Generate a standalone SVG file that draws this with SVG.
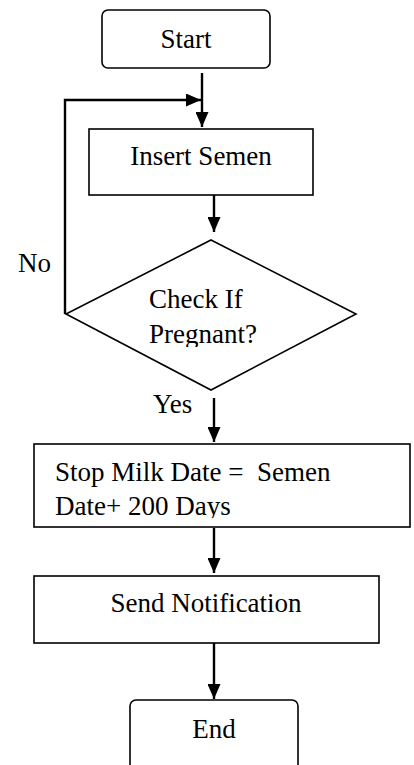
<svg xmlns="http://www.w3.org/2000/svg" width="414" height="765" viewBox="0 0 414 765">
<style>
.box{fill:#fff;stroke:#000;stroke-width:1.6}
.t{font-family:"Liberation Serif","Times New Roman",serif;font-size:27px;fill:#000}
.c{stroke:#000;stroke-width:2.4;fill:none}
</style>
<defs>
<marker id="ah" markerUnits="userSpaceOnUse" markerWidth="15" markerHeight="13" refX="15" refY="6.5" orient="auto" viewBox="0 0 15 13">
<path d="M0,0 L15,6.5 L0,13 z" fill="#000"/>
</marker>
<clipPath id="clipD"><rect x="0" y="0" width="414" height="347"/></clipPath>
<clipPath id="clipS"><rect x="0" y="0" width="414" height="518"/></clipPath>
</defs>
<rect width="414" height="765" fill="#fff"/>
<g id="connectors">
<line class="c" x1="202" y1="73" x2="202" y2="127" marker-end="url(#ah)"/>
<polyline class="c" points="65,314 65,100 201,100" marker-end="url(#ah)"/>
<line class="c" x1="214" y1="195" x2="214" y2="232" marker-end="url(#ah)"/>
<line class="c" x1="214" y1="398" x2="214" y2="442" marker-end="url(#ah)"/>
<line class="c" x1="214" y1="528" x2="214" y2="573" marker-end="url(#ah)"/>
<line class="c" x1="214" y1="643" x2="214" y2="699" marker-end="url(#ah)"/>
</g>
<g id="start">
<rect class="box" x="102" y="10" width="168" height="58" rx="6"/>
<text class="t" x="186" y="48" text-anchor="middle">Start</text>
</g>
<g id="insert">
<rect class="box" x="89" y="129" width="224" height="66"/>
<text class="t" x="201" y="165" text-anchor="middle">Insert Semen</text>
</g>
<g id="check">
<polygon class="box" points="211,240 356,314 211,390 66,314"/>
<text class="t" x="149" y="308">Check If</text>
<text class="t" x="149" y="343" clip-path="url(#clipD)">Pregnant?</text>
</g>
<g id="labels">
<text class="t" x="18" y="272">No</text>
<text class="t" x="153" y="413">Yes</text>
</g>
<g id="stopmilk">
<rect class="box" x="34" y="444" width="376" height="83"/>
<text class="t" x="55" y="481" xml:space="preserve">Stop Milk Date =  Semen</text>
<text class="t" x="55" y="515" clip-path="url(#clipS)">Date+ 200 Days</text>
</g>
<g id="notify">
<rect class="box" x="34" y="576" width="345" height="67"/>
<text class="t" x="206" y="612" text-anchor="middle">Send Notification</text>
</g>
<g id="end">
<rect class="box" x="130" y="700" width="168" height="72" rx="6"/>
<text class="t" x="214" y="738" text-anchor="middle">End</text>
</g>
</svg>
